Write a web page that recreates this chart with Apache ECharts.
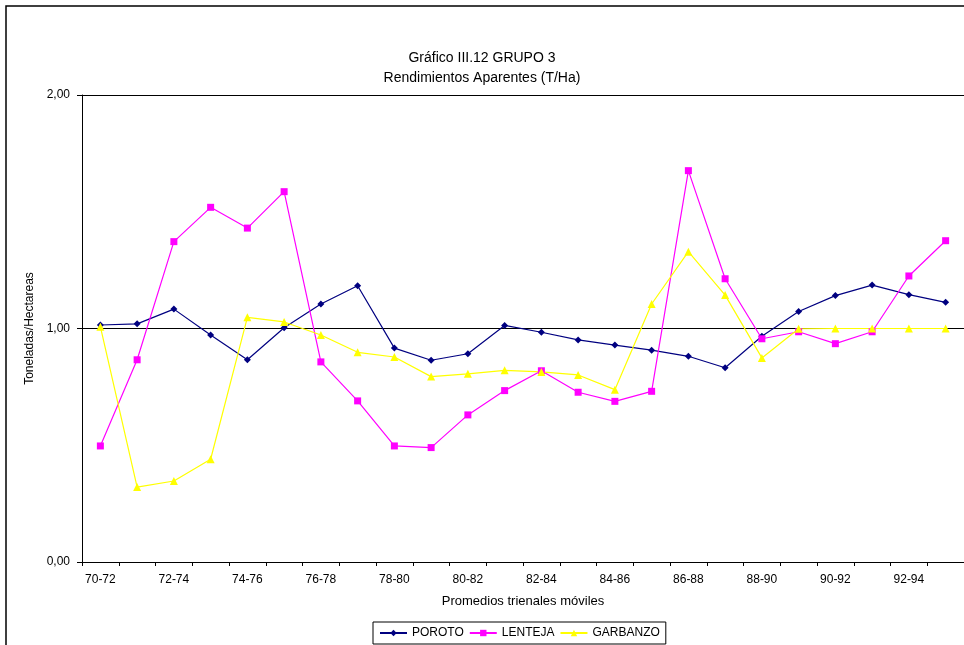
<!DOCTYPE html>
<html><head><meta charset="utf-8">
<script src="https://cdn.jsdelivr.net/npm/echarts@6/dist/echarts.min.js"></script>
<style>html,body{margin:0;padding:0;background:#fff}#c{width:964px;height:645px}</style>
</head><body><div id="c"></div>
<script>
const categories = ['70-72','71-73','72-74','73-75','74-76','75-77','76-78','77-79','78-80','79-81','80-82','81-83','82-84','83-85','84-86','85-87','86-88','87-89','88-90','89-91','90-92','91-93','92-94','93-95'];
const poroto = [1.015,1.02,1.083,0.972,0.866,1.003,1.105,1.183,0.916,0.864,0.892,1.013,0.984,0.951,0.929,0.907,0.881,0.832,0.967,1.073,1.141,1.186,1.145,1.112];
const lenteja = [0.497,0.866,1.372,1.519,1.430,1.586,0.857,0.690,0.497,0.490,0.630,0.734,0.819,0.727,0.688,0.731,1.676,1.213,0.956,0.986,0.935,0.986,1.225,1.376];
const garbanzo = [1.008,0.321,0.347,0.440,1.048,1.028,0.972,0.898,0.878,0.794,0.806,0.821,0.814,0.801,0.738,1.105,1.329,1.143,0.874,0.999,1.0,1.0,1.0,1.0];
const yTicks = [0,1,2];

const chart = echarts.init(document.getElementById('c'), null, {renderer:'canvas'});
const font = 'Liberation Sans, Arial, sans-serif';
chart.setOption({
  animation:false,
  backgroundColor:'#fff',
  graphic:[
    {type:'rect', shape:{x:6,y:6,width:1000,height:700}, style:{fill:'none',stroke:'#000',lineWidth:1.5}, z:-1}
  ],
  title:{
    text:'Gráfico III.12 GRUPO 3\nRendimientos Aparentes (T/Ha)',
    left:'center', top:43,
    textStyle:{fontFamily:font,fontSize:14,fontWeight:'normal',color:'#000',lineHeight:20}
  },
  legend:{
    bottom:1, left:373,
    data:['POROTO','LENTEJA','GARBANZO'],
    borderColor:'#000', borderWidth:1, padding:[5,6,5,6],
    itemWidth:27, itemHeight:8, itemGap:5,
    textStyle:{fontFamily:font,fontSize:12,color:'#000'}
  },
  grid:{left:82,right:0,top:95,bottom:83,containLabel:false},
  xAxis:{
    type:'category', data:categories, boundaryGap:true,
    name:'Promedios trienales móviles', nameLocation:'middle', nameGap:33,
    nameTextStyle:{fontFamily:font,fontSize:13,color:'#000'},
    axisLine:{lineStyle:{color:'#000',width:1}},
    axisTick:{show:true,interval:0,length:4,lineStyle:{color:'#000'}},
    axisLabel:{interval:1,fontFamily:font,fontSize:12,color:'#000',margin:12},
    splitLine:{show:false}
  },
  yAxis:{
    type:'value', min:0, max:2, interval:1,
    name:'Toneladas/Hectareas', nameLocation:'middle', nameGap:46, nameRotate:90,
    nameTextStyle:{fontFamily:font,fontSize:12,color:'#000'},
    axisLine:{show:true,lineStyle:{color:'#000',width:1}},
    axisTick:{show:true,length:5,lineStyle:{color:'#000'}},
    axisLabel:{fontFamily:font,fontSize:12,color:'#000',margin:12,
      formatter:v=>v.toFixed(2).replace('.',',')},
    splitLine:{show:true,lineStyle:{color:'#000',width:1}}
  },
  series:[
    {name:'POROTO',type:'line',data:poroto,color:'#000080',symbol:'diamond',symbolSize:7,
      lineStyle:{width:1.2,color:'#000080'},itemStyle:{color:'#000080'}},
    {name:'LENTEJA',type:'line',data:lenteja,color:'#ff00ff',symbol:'rect',symbolSize:7,
      lineStyle:{width:1.2,color:'#ff00ff'},itemStyle:{color:'#ff00ff'}},
    {name:'GARBANZO',type:'line',data:garbanzo,color:'#ffff00',symbol:'triangle',symbolSize:8,
      lineStyle:{width:1.2,color:'#ffff00'},itemStyle:{color:'#ffff00'}}
  ]
});
</script></body></html>
